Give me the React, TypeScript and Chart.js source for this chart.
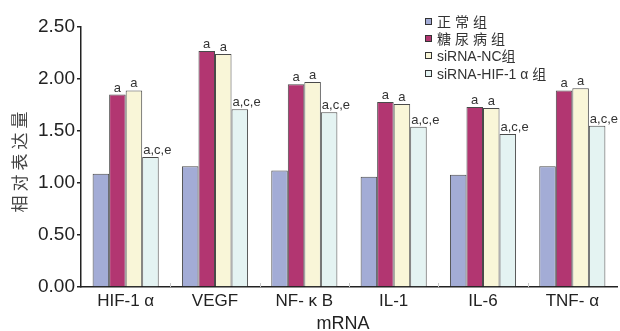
import React, { useEffect, useRef } from "react";
import { Chart, registerables } from "chart.js";

Chart.register(...registerables);

const categories = ["HIF-1 α", "VEGF", "NF- κ B", "IL-1", "IL-6", "TNF- α"];
const seriesNames = ["正常组", "糖尿病组", "siRNA-NC组", "siRNA-HIF-1 α 组"];
const normalValues = [1.09, 1.16, 1.12, 1.06, 1.08, 1.16];
const diabetesValues = [1.85, 2.27, 1.95, 1.78, 1.73, 1.89];
const ncValues = [1.89, 2.24, 1.97, 1.76, 1.72, 1.91];
const siHifValues = [1.25, 1.71, 1.68, 1.54, 1.47, 1.55];
const seriesColors = ["#A3ACD6", "#B23671", "#F9F6D8", "#E4F3F2"];
const seriesMarks = ["", "a", "a", "a,c,e"];
const yTicks = [0, 0.5, 1, 1.5, 2, 2.5];
const yTitle = "相对表达量";
const xTitle = "mRNA";

const LATIN = "'Liberation Sans', Arial, sans-serif";
const CJK = "'Noto Sans CJK SC', sans-serif";

const annotPlugin = {
  id: "annot",
  afterDatasetsDraw(chart: any) {
    const ctx = chart.ctx;
    const area = chart.chartArea;
    ctx.save();
    const xs = chart.scales.x;
    ctx.strokeStyle = "#c8c8c8";
    ctx.lineWidth = 1;
    for (let i = 1; i < categories.length; i++) {
      const x = Math.round((xs.getPixelForValue(i - 1) + xs.getPixelForValue(i)) / 2) + 0.5;
      ctx.beginPath();
      ctx.moveTo(x, area.bottom);
      ctx.lineTo(x, area.bottom - 4);
      ctx.stroke();
    }
    ctx.fillStyle = "#333";
    ctx.font = "13px " + LATIN;
    ctx.textBaseline = "alphabetic";
    chart.data.datasets.forEach((ds: any, di: number) => {
      const mark = seriesMarks[di];
      if (!mark) return;
      const meta = chart.getDatasetMeta(di);
      meta.data.forEach((bar: any) => {
        const left = bar.x - bar.width / 2;
        if (mark.length > 1) {
          ctx.textAlign = "left";
          ctx.fillText(mark, left + 1, bar.y - 3);
        } else {
          ctx.textAlign = "center";
          ctx.fillText(mark, bar.x, bar.y - 3);
        }
      });
    });
    const lx = 425;
    const ly = [22, 39, 56, 74];
    chart.data.datasets.forEach((ds: any, di: number) => {
      const y = ly[di];
      ctx.fillStyle = ds.backgroundColor;
      ctx.fillRect(lx, y - 4, 7, 7);
      ctx.strokeStyle = "#333";
      ctx.lineWidth = 1;
      ctx.strokeRect(lx + 0.5, y - 3.5, 6, 6);
      ctx.fillStyle = "#333";
      ctx.textAlign = "left";
      ctx.textBaseline = "middle";
      let x = lx + 12;
      for (const ch of ds.label as string) {
        const isCjk = /[\u4e00-\u9fff]/.test(ch);
        ctx.font = isCjk ? "14px " + CJK : "14px " + LATIN;
        ctx.fillText(ch, x, y + (isCjk ? 0 : 1));
        const w = ctx.measureText(ch).width;
        x += w + (isCjk && di < 2 ? 4 : 0);
      }
    });
    ctx.fillStyle = "#444";
    ctx.font = "17px " + CJK;
    ctx.textAlign = "center";
    ctx.textBaseline = "middle";
    const chars = Array.from(yTitle);
    const step = 21;
    const cy = 162;
    ctx.save();
    ctx.translate(20, cy);
    ctx.rotate(-Math.PI / 2);
    chars.forEach((ch, i) => {
      ctx.fillText(ch, (i - (chars.length - 1) / 2) * step, 0);
    });
    ctx.restore();
    ctx.fillStyle = "#222";
    ctx.font = "18px " + LATIN;
    ctx.textAlign = "center";
    ctx.textBaseline = "middle";
    ctx.fillText(xTitle, 343, 324);
    ctx.restore();
  },
};

export default function App() {
  const ref = useRef<HTMLCanvasElement>(null);
  useEffect(() => {
    document.body.style.margin = "0";
    const data = [normalValues, diabetesValues, ncValues, siHifValues];
    const chart = new Chart(ref.current!, {
      type: "bar",
      data: {
        labels: categories,
        datasets: seriesNames.map((name, i) => ({
          label: name,
          data: data[i],
          backgroundColor: seriesColors[i],
          borderColor: "#4a4a4a",
          borderWidth: 1,
          borderSkipped: "bottom",
          categoryPercentage: 0.74,
          barPercentage: 1,
        })),
      },
      options: {
        animation: false,
        responsive: false,
        events: [],
        layout: { padding: { top: 27, right: 3, left: 0, bottom: 0 } },
        plugins: { legend: { display: false }, tooltip: { enabled: false } },
        scales: {
          x: {
            grid: { display: false, drawTicks: false },
            border: { display: true, color: "#222", width: 1.5 },
            ticks: { color: "#222", font: { size: 17, family: LATIN }, padding: 4 },
            afterFit(scale: any) {
              scale.height = 44;
            },
          },
          y: {
            min: 0,
            max: 2.5,
            afterBuildTicks(scale: any) {
              scale.ticks = yTicks.map((v) => ({ value: v }));
            },
            grid: { display: true, drawOnChartArea: false, drawTicks: true, tickLength: 4, color: "#222", lineWidth: 1.5 },
            border: { display: true, color: "#222", width: 1.5 },
            ticks: {
              color: "#222",
              font: { size: 19, family: LATIN },
              padding: 2,
              callback: (v: any) => Number(v).toFixed(2),
            },
            afterFit(scale: any) {
              scale.width = 81;
            },
          },
        },
      },
      plugins: [annotPlugin],
    });
    return () => chart.destroy();
  }, []);
  return (
    <div style={{ position: "fixed", left: 0, top: 0, width: 620, height: 331, background: "#fff" }}>
      <canvas ref={ref} width={620} height={331} />
    </div>
  );
}
